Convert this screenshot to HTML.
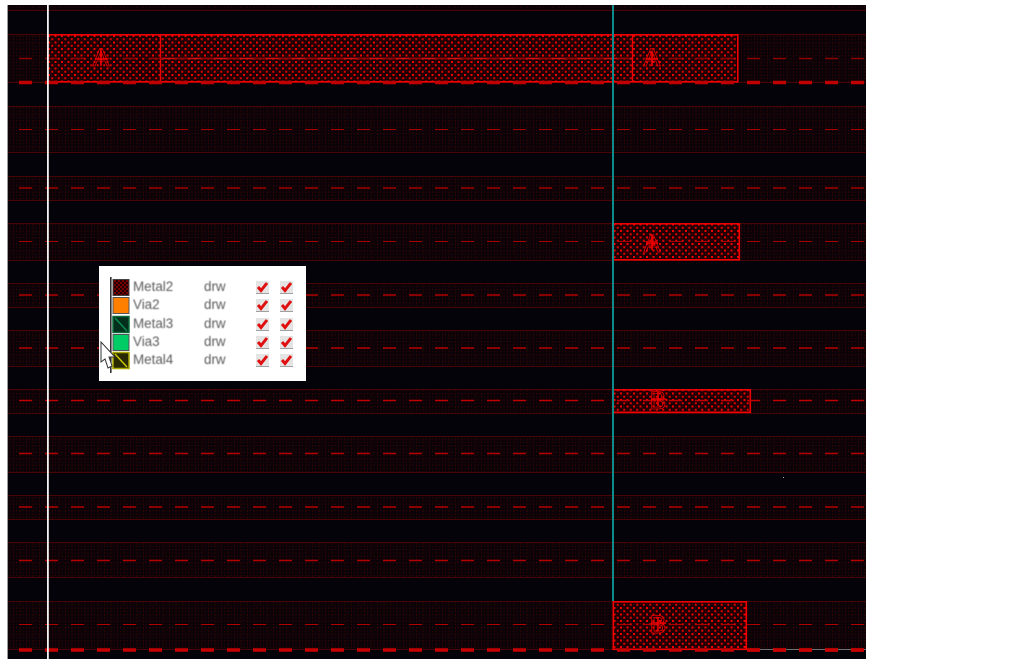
<!DOCTYPE html>
<html><head><meta charset="utf-8"><style>
html,body{margin:0;padding:0;background:#fff}
svg{display:block}
text{font-family:"Liberation Sans",sans-serif}
</style></head><body>
<svg xmlns="http://www.w3.org/2000/svg" width="1013" height="663" viewBox="0 0 1013 663">
<defs>
<pattern id="b" width="6.5" height="6.5" patternUnits="userSpaceOnUse">
<rect width="6.5" height="6.5" fill="#0b0307"/>
<rect x="0" y="0" width="1" height="1" fill="#420505"/>
<rect x="3" y="0" width="1" height="1" fill="#2a0304"/>
<rect x="0" y="3" width="1" height="2" fill="#340405"/>
<rect x="3" y="3" width="1" height="1" fill="#420505"/>
</pattern>
<pattern id="f" width="6.5" height="6.5" patternUnits="userSpaceOnUse" x="48" y="35">
<rect width="6.500" height="6.500" fill="#1c0004"/>
<rect x="0" y="0" width="2" height="2" fill="#f00000"/>
<rect x="3.250" y="3.250" width="2" height="2" fill="#e00000"/>
<rect x="3.250" y="0.500" width="1" height="1" fill="#500000"/>
<rect x="0.500" y="3.250" width="1" height="1" fill="#500000"/>
</pattern>
<pattern id="s" width="4" height="4" patternUnits="userSpaceOnUse">
<rect width="4" height="4" fill="#700"/><rect width="2" height="2" fill="#200"/><rect x="2" y="2" width="2" height="2" fill="#200"/>
</pattern>
<filter id="soft" x="-5%" y="-5%" width="110%" height="110%"><feGaussianBlur stdDeviation="0.45"/></filter>
</defs>
<rect width="1013" height="663" fill="#fff"/>
<rect x="7" y="5" width="859" height="654" fill="#05030a"/>
<rect x="7" y="5" width="1" height="654" fill="#9a9a9a"/>

<!-- bands -->
<g fill="url(#b)">
<rect x="8" y="5" width="858" height="6"/>
<rect x="8" y="34" width="858" height="49"/>
<rect x="8" y="106" width="858" height="47"/>
<rect x="8" y="176" width="858" height="25"/>
<rect x="8" y="223" width="858" height="38"/>
<rect x="8" y="283" width="858" height="25"/>
<rect x="8" y="330" width="858" height="37"/>
<rect x="8" y="389" width="858" height="25"/>
<rect x="8" y="436" width="858" height="37"/>
<rect x="8" y="495" width="858" height="25"/>
<rect x="8" y="542" width="858" height="36"/>
<rect x="8" y="601" width="858" height="49"/>
</g>
<path stroke="#480505" stroke-width="1" fill="none" d="M8 10.500H866M8 34.500H866M8 82.500H866M8 106.500H866M8 152.500H866M8 176.500H866M8 200.500H866M8 223.500H866M8 260.500H866M8 283.500H866M8 307.500H866M8 330.500H866M8 366.500H866M8 389.500H866M8 413.500H866M8 436.500H866M8 472.500H866M8 495.500H866M8 519.500H866M8 542.500H866M8 577.500H866M8 601.500H866M8 649.500H866"/>

<!-- filled shapes -->
<g fill="url(#f)" stroke="#f00000" stroke-width="1.6">
<rect x="47.800" y="34.800" width="690" height="47"/>
<rect x="613.300" y="223.800" width="126" height="36"/>
<rect x="613.300" y="389.800" width="137" height="22.500"/>
<rect x="613.300" y="601.800" width="133" height="47.500"/>
</g>
<path d="M160.500 35V82M632.500 35V82" stroke="#f00000" stroke-width="1.400"/>
<path d="M160 58.500H632" stroke="#d01010" stroke-width="1.500"/>

<!-- dashed centre lines -->
<g fill="none" stroke-dasharray="13 13">
<path d="M19 58.500H866" stroke="#8c0000" stroke-width="1.400"/>
<path d="M19 129.500H866" stroke="#a80000" stroke-width="1"/>
<path d="M19 188H866" stroke="#7c0000" stroke-width="2"/>
<path d="M19 241.500H866" stroke="#a80000" stroke-width="1"/>
<path d="M19 295H866" stroke="#b00000" stroke-width="1.400"/>
<path d="M19 348H866" stroke="#b80000" stroke-width="1.400"/>
<path d="M19 400.500H866" stroke="#c00000" stroke-width="1.400"/>
<path d="M19 453.500H866" stroke="#b40000" stroke-width="1.600"/>
<path d="M19 507H866" stroke="#b40000" stroke-width="1.400"/>
<path d="M19 560.500H866" stroke="#b40000" stroke-width="1.400"/>
<path d="M19 624.500H866" stroke="#b00000" stroke-width="1"/>
<path d="M19 82.500H866" stroke="#c00000" stroke-width="3.500"/>
<path d="M19 650H866" stroke="#c80000" stroke-width="3.500"/>
</g>
<path d="M748 649.500H866" stroke="#707070" stroke-width="1"/>
<path d="M747 650H866" fill="none" stroke="#c80000" stroke-width="3.500" stroke-dasharray="13 13"/>

<!-- labels -->
<g font-size="25" fill="none" stroke="#e80000" stroke-width="0.800" text-anchor="middle">
<text x="101" y="66">A</text>
<text x="652" y="66">A</text>
<text x="652" y="252">A</text>
<text x="658" y="409">B</text>
<text x="658" y="633">B</text>
</g>
<path stroke="#f00000" stroke-width="1.600" d="M95 59H108M101 50V66M646 59H658M652 52V66M646 243H658M652 235V250M651 399H666M658 392V406M651 623H666M658 617V631"/>

<!-- vertical markers -->
<rect x="47" y="5" width="1.800" height="654" fill="#f4f4f4"/>
<rect x="612" y="5" width="2" height="596" fill="#0d8a8a"/>
<rect x="783" y="477" width="1" height="1" fill="#bbb"/>

<!-- legend -->
<rect x="99" y="266" width="207" height="115" fill="#fff"/>
<rect x="110" y="277" width="1.600" height="96" fill="#333"/>
<rect x="113" y="279.500" width="16" height="16" fill="url(#s)" stroke="#444"/>
<rect x="113" y="297.500" width="16" height="16" fill="#ff8000" stroke="#555"/>
<rect x="113" y="316.500" width="16" height="16" fill="#03301c" stroke="#0c6a3c" stroke-width="1.500"/>
<path d="M115 318L127 331" stroke="#0c8a50" stroke-width="1.500"/>
<rect x="113" y="334.500" width="16" height="16" fill="#00cc66" stroke="#555"/>
<rect x="113" y="352.500" width="16" height="16" fill="#2a2a00" stroke="#a8a800" stroke-width="1.500"/>
<path d="M115 354L127 367" stroke="#c8c800" stroke-width="1.500"/>
<g font-size="13.400" fill="#5c5c5c" filter="url(#soft)">
<text x="133" y="291">Metal2</text><text x="204" y="291">drw</text>
<text x="133" y="309">Via2</text><text x="204" y="309">drw</text>
<text x="133" y="328">Metal3</text><text x="204" y="328">drw</text>
<text x="133" y="346">Via3</text><text x="204" y="346">drw</text>
<text x="133" y="364">Metal4</text><text x="204" y="364">drw</text>
</g>
<g fill="#e4e4e4">
<rect x="256" y="281" width="13" height="13"/><rect x="280" y="281" width="13" height="13"/>
<rect x="256" y="299" width="13" height="13"/><rect x="280" y="299" width="13" height="13"/>
<rect x="256" y="318" width="13" height="13"/><rect x="280" y="318" width="13" height="13"/>
<rect x="256" y="336" width="13" height="13"/><rect x="280" y="336" width="13" height="13"/>
<rect x="256" y="354" width="13" height="13"/><rect x="280" y="354" width="13" height="13"/>
</g>
<path fill="none" stroke="#a0a0a0" stroke-width="1" d="M256 293.500H269M280 293.500H293M256 311.500H269M280 311.500H293M256 330.500H269M280 330.500H293M256 348.500H269M280 348.500H293M256 366.500H269M280 366.500H293"/>
<g fill="none" stroke="#e01010" stroke-width="3">
<path d="M258 287L261 290.500L267 283M282 287L285 290.500L291 283"/>
<path d="M258 305L261 308.500L267 301M282 305L285 308.500L291 301"/>
<path d="M258 324L261 327.500L267 320M282 324L285 327.500L291 320"/>
<path d="M258 342L261 345.500L267 338M282 342L285 345.500L291 338"/>
<path d="M258 360L261 363.500L267 356M282 360L285 363.500L291 356"/>
</g>
<!-- cursor -->
<path d="M101 342V362L105 359L108 368L112 366L109 357L115 357Z" fill="#fff" stroke="#333" stroke-width="1"/>
</svg>
</body></html>
